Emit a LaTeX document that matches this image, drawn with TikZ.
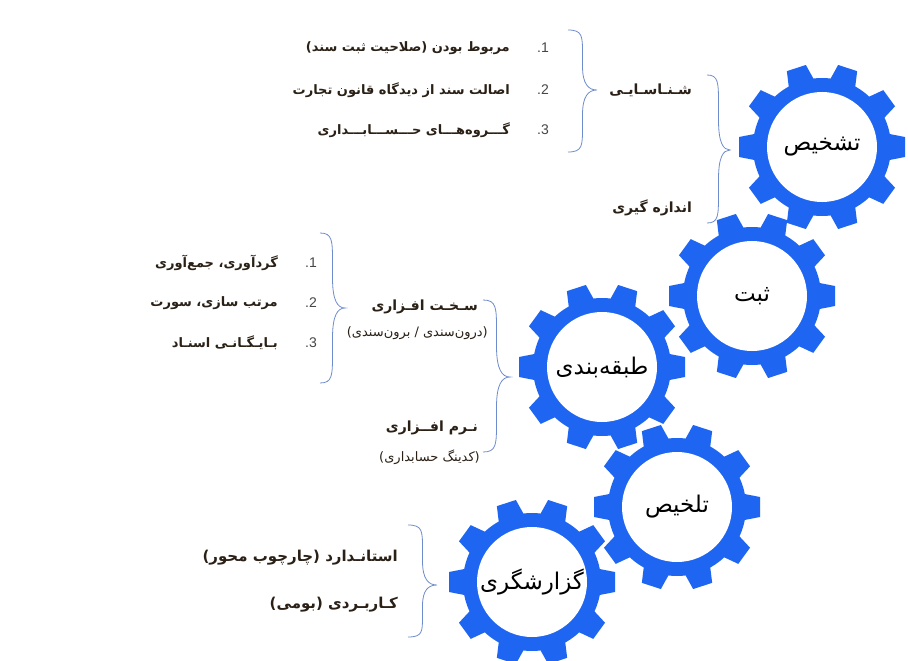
\documentclass[tikz,border=0pt]{standalone}
\usepackage{fontspec}
\setmainfont{Liberation Sans}
\newfontfamily\fa[Script=Arabic]{DejaVu Sans}
\TeXXeTstate=1
\definecolor{gearblue}{RGB}{30,102,242}
\definecolor{bracec}{RGB}{110,140,205}
\definecolor{textc}{RGB}{42,32,22}
\definecolor{numc}{RGB}{70,70,70}
\tikzset{
  itemtext/.style={anchor=east, inner sep=0pt, text=textc, font=\fa\bfseries\fontsize{13}{15}\selectfont},
  bigitemtext/.style={anchor=east, inner sep=0pt, text=textc, font=\fa\bfseries\fontsize{15}{17}\selectfont},
  headtext/.style={anchor=east, inner sep=0pt, text=textc, font=\fa\bfseries\fontsize{14}{16}\selectfont},
  subtext/.style={anchor=east, inner sep=0pt, text=textc, font=\fa\fontsize{13}{15}\selectfont},
  numtext/.style={inner sep=0pt, text=numc, font=\fontsize{14}{16}\selectfont},
  gearlabel/.style={inner sep=0pt, text=black, font=\fa\fontsize{23}{26}\selectfont},
  bracestyle/.style={draw=bracec, line width=0.8pt},
}
\newcommand\mygear[3]{%
  \begin{scope}[shift={#2}]
    \fill[gearblue] (0,0) circle (69pt);
    \foreach \a in {0,36,...,324}{
      \fill[gearblue, rotate=\a] (65,-13.5) -- (83,-10) -- (83,10) -- (65,13.5) -- cycle;
    }
    \fill[white] (0,0) circle (55pt);
  \end{scope}
  \node[gearlabel] (#1) at #2 {\beginR #3\endR};
}
% xl, yt, yb, xr, ym
\newcommand\mybrace[5]{%
  \pgfmathsetmacro\bxm{(#1+#4)/2}%
  \pgfmathsetmacro\bha{#5-#2}%
  \pgfmathsetmacro\bhb{#3-#5}%
  \draw[bracestyle] (#1,#2)
    .. controls ({\bxm},#2) and ({\bxm},{#2+0.1*\bha}) .. ({\bxm},{#2+0.4*\bha})
    -- ({\bxm},{#5-0.4*\bha})
    .. controls ({\bxm},{#5-0.1*\bha}) and ({#4-0.3*(#4-#1)},#5) .. (#4,#5)
    .. controls ({#4-0.3*(#4-#1)},#5) and ({\bxm},{#5+0.1*\bhb}) .. ({\bxm},{#5+0.4*\bhb})
    -- ({\bxm},{#3-0.4*\bhb})
    .. controls ({\bxm},{#3-0.1*\bhb}) and ({\bxm},#3) .. (#1,#3);
}
\begin{document}
\begin{tikzpicture}[x=1pt,y=-1pt]
\useasboundingbox (0,0) rectangle (908,661);
\fill[white] (0,0) rectangle (908,661);

% gears
\mygear{g1}{(822,147)}{تشخیص}
\mygear{g2}{(752,296)}{ثبت}
\mygear{g3}{(602,367)}{طبقه‌بندی}
\mygear{g4}{(677,507)}{تلخیص}
\mygear{g5}{(532,582)}{گزارشگری}

% top group
\node[itemtext] (t1) at (510,48) {\beginR مربوط بودن (صلاحیت ثبت سند)\endR};
\node[itemtext] (t2) at (510,90) {\beginR اصالت سند از دیدگاه قانون تجارت\endR};
\node[itemtext] (t3) at (510,130) {\beginR گـــروه‌هـــای حـــســـابـــداری\endR};
\node[numtext] (n1) at (543,48) {.1};
\node[numtext] (n2) at (543,90) {.2};
\node[numtext] (n3) at (543,130) {.3};
\mybrace{568}{30}{152}{597}{90}
\node[headtext] (shen) at (692,90) {\beginR شـنـاسـایـی\endR};
\node[headtext] (andaze) at (692,208) {\beginR اندازه گیری\endR};
\mybrace{707}{75}{223}{730}{150}

% middle group
\node[itemtext] (m1) at (278,263) {\beginR گردآوری، جمع‌آوری\endR};
\node[itemtext] (m2) at (278,303) {\beginR مرتب سازی، سورت\endR};
\node[itemtext] (m3) at (278,343) {\beginR بـایـگـانـی اسنـاد\endR};
\node[numtext] (k1) at (311,263) {.1};
\node[numtext] (k2) at (311,303) {.2};
\node[numtext] (k3) at (311,343) {.3};
\mybrace{320}{233}{383}{345}{308}
\node[headtext] (sakht) at (478,307) {\beginR سـخـت افـزاری\endR};
\node[subtext] (sakhtsub) at (488,333) {\beginR (درون‌سندی / برون‌سندی)\endR};
\node[headtext] (narm) at (478,428) {\beginR نـرم افــزاری\endR};
\node[subtext] (narmsub) at (480,457) {\beginR (کدینگ حسابداری)\endR};
\mybrace{483}{300}{452}{510}{377}

% bottom group
\node[bigitemtext] (b1) at (398,558) {\beginR استانـدارد (چارچوب محور)\endR};
\node[bigitemtext] (b2) at (398,605) {\beginR کـاربـردی (بومی)\endR};
\mybrace{408}{525}{637}{437}{585}
\end{tikzpicture}
\end{document}
